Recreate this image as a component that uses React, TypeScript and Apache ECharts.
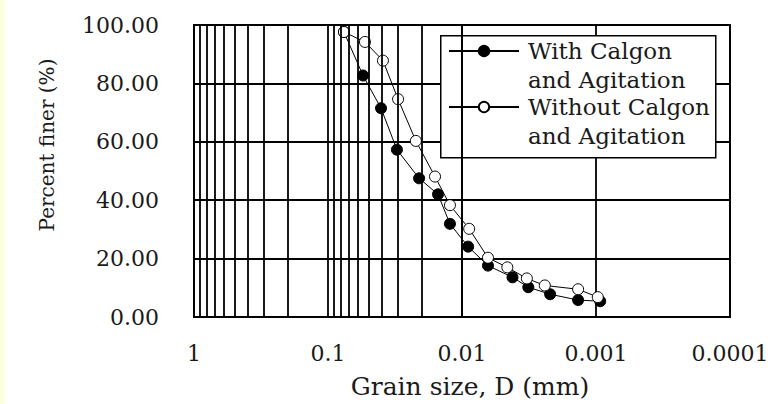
import React, { useEffect, useRef } from 'react';
import * as echarts from 'echarts';

// Tick labels
const xTickLabels = ['1', '0.1', '0.01', '0.001', '0.0001'];
const yTicks = [0, 20, 40, 60, 80, 100];

// Series names
const seriesWithName = 'With Calgon and Agitation';
const seriesWithoutName = 'Without Calgon and Agitation';

// With Calgon and Agitation: grain size D (mm), percent finer (%)
const withD = [0.076, 0.0548, 0.0402, 0.0306, 0.0209, 0.0151, 0.0123, 0.009, 0.0064, 0.0042, 0.0032, 0.0022, 0.00136, 0.00093];
const withP = [97.6, 82.7, 71.5, 57.3, 47.5, 42.0, 31.9, 24.1, 17.6, 13.6, 10.2, 7.8, 5.8, 5.4];

// Without Calgon and Agitation
const withoutD = [0.076, 0.053, 0.0389, 0.03, 0.0221, 0.0159, 0.0123, 0.00884, 0.0064, 0.00459, 0.00328, 0.00241, 0.00136, 0.00097];
const withoutP = [97.6, 94.2, 87.8, 74.6, 60.3, 48.1, 38.3, 30.2, 20.3, 17.0, 13.2, 10.8, 9.5, 6.8];

// Log-cycle gridlines: decades and the 2..9 subdivisions inside each
const decades = [1, 0.1, 0.01, 0.001];
const subdivisions = [2, 3, 4, 5, 6, 7, 8, 9];

const FONT = 'DejaVu Serif';
const INK = '#1a1a1a';
const GRID = '#000';
const GW = 1.8;

export default function App() {
  const ref = useRef<HTMLDivElement>(null);

  useEffect(() => {
    document.body.style.margin = '0';
    if (!ref.current) return;
    const chart = echarts.init(ref.current, undefined, { renderer: 'svg' });

    const minorLines: any[] = [];
    decades.forEach((d) => {
      subdivisions.forEach((m) => {
        minorLines.push({ xAxis: (m * d) / 10 });
      });
    });

    const legendText = { fontFamily: FONT, fontSize: 23, color: INK, lineHeight: 29, padding: [0, 0, 0, 4] };
    const legendCommon = {
      orient: 'vertical',
      left: 440,
      itemWidth: 70,
      itemHeight: 13,
      padding: [0, 8, 0, 8],
      textStyle: legendText,
      // blank first line keeps the marker level with the first line of text
      formatter: (n: string) => '\n' + n.replace(' and ', '\nand '),
    };

    const option: any = {
      animation: false,
      backgroundColor: 'transparent',
      grid: {
        left: 194,
        top: 25,
        right: 47,
        bottom: 84,
        show: true,
        borderColor: GRID,
        borderWidth: GW,
        backgroundColor: '#fff',
      },
      graphic: [
        {
          type: 'rect',
          left: 440,
          top: 35,
          z: 2,
          shape: { width: 275, height: 122 },
          style: { fill: '#fff', stroke: GRID, lineWidth: 1.5 },
        },
      ],
      xAxis: {
        type: 'log',
        logBase: 10,
        min: 0.0001,
        max: 1,
        inverse: true,
        name: 'Grain size, D (mm)',
        nameLocation: 'middle',
        nameGap: 57,
        nameTextStyle: { fontFamily: FONT, fontSize: 25, color: INK, padding: [0, 0, 0, 16] },
        axisLine: { show: true, lineStyle: { color: GRID, width: GW } },
        axisTick: { show: false },
        axisLabel: {
          fontFamily: FONT,
          fontSize: 22,
          color: INK,
          margin: 25,
          formatter: (v: number) => {
            const i = Math.round(-Math.log10(v));
            return xTickLabels[i] ?? '';
          },
        },
        splitLine: { show: true, lineStyle: { color: GRID, width: GW } },
        minorTick: { show: false },
        minorSplitLine: { show: false },
      },
      yAxis: {
        type: 'value',
        min: yTicks[0],
        max: yTicks[yTicks.length - 1],
        interval: 20,
        name: 'Percent finer (%)',
        nameLocation: 'middle',
        nameGap: 137,
        nameTextStyle: { fontFamily: FONT, fontSize: 20, color: INK, padding: [0, 0, 0, 52] },
        axisLine: { show: true, lineStyle: { color: GRID, width: GW } },
        axisTick: { show: false },
        axisLabel: {
          fontFamily: FONT,
          fontSize: 22,
          color: INK,
          margin: 35,
          padding: [0, 0, 10, 0],
          formatter: (v: number) => v.toFixed(2),
        },
        splitLine: { show: true, lineStyle: { color: GRID, width: GW } },
      },
      legend: [
        { ...legendCommon, top: 7.5, data: [seriesWithName] },
        { ...legendCommon, top: 63.5, data: [seriesWithoutName] },
      ],
      series: [
        {
          name: 'grid',
          type: 'line',
          data: [],
          silent: true,
          z: 1,
          markLine: {
            silent: true,
            symbol: ['none', 'none'],
            label: { show: false },
            lineStyle: { color: GRID, width: GW, type: 'solid' },
            data: minorLines,
          },
        },
        {
          name: seriesWithName,
          type: 'line',
          z: 3,
          data: withD.map((d, i) => [d, withP[i]]),
          symbol: 'circle',
          symbolSize: 11,
          lineStyle: { color: '#000', width: 1 },
          itemStyle: { color: '#000', borderColor: '#000', borderWidth: 1 },
        },
        {
          name: seriesWithoutName,
          type: 'line',
          z: 4,
          data: withoutD.map((d, i) => [d, withoutP[i]]),
          symbol: 'circle',
          symbolSize: 11,
          lineStyle: { color: '#000', width: 1 },
          itemStyle: { color: '#fff', borderColor: '#000', borderWidth: 1 },
        },
      ],
    };

    chart.setOption(option);
    return () => chart.dispose();
  }, []);

  return (
    <div
      style={{
        width: 777,
        height: 404,
        background: 'linear-gradient(to right, #FFFFE0 0px, #FFFFE0 5px, #ffffff 5px)',
      }}
    >
      <div ref={ref} style={{ width: 777, height: 404 }} />
    </div>
  );
}
